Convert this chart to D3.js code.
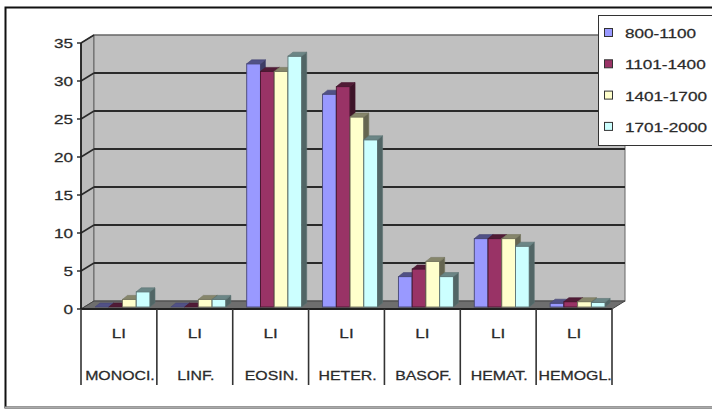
<!DOCTYPE html>
<html>
<head>
<meta charset="utf-8">
<script src="https://cdn.jsdelivr.net/npm/d3@7"></script>
<style>
  body { margin: 0; background: #fff; }
  text { font-family: "Liberation Sans", Arial, sans-serif; fill: #2a2a2a; stroke: #2a2a2a; stroke-width: 0.25px; }
</style>
</head>
<body>
<div id="chart"></div>
<script>
var categories = ["MONOCI.", "LINF.", "EOSIN.", "HETER.", "BASOF.", "HEMAT.", "HEMOGL."];
var groupLabel = "LI";
var seriesNames = ["800-1100", "1101-1400", "1401-1700", "1701-2000"];
var s800 = [0, 0, 32, 28, 4, 9, 0.5];
var s1101 = [0, 0, 31, 29, 5, 9, 0.7];
var s1401 = [1, 1, 31, 25, 6, 9, 0.7];
var s1701 = [2, 1, 33, 22, 4, 8, 0.6];
var yTicks = [0, 5, 10, 15, 20, 25, 30, 35];
var colors = ["#9999FF", "#993366", "#FFFFCC", "#CCFFFF"];

var seriesValues = [s800, s1101, s1401, s1701];

width = 712;
height = 410;
var stretch = 1.27;
// depth of the back wall and of each bar
var wallDx = 13, wallDy = 8;
var barDx = 5, barDy = 4;

var svg = d3.select("#chart").append("svg")
    .attr("width", width)
    .attr("height", height);

// chart area border
svg.append("rect")
    .attr("x", 5.5).attr("y", 7.5)
    .attr("width", 720).attr("height", 400)
    .attr("fill", "#fff")
    .attr("stroke", "#111")
    .attr("stroke-width", 2);
svg.append("line")
    .attr("x1", 5).attr("x2", 712).attr("y1", 407.5).attr("y2", 407.5)
    .attr("stroke", "#aaa").attr("stroke-width", 2);

var y = d3.scaleLinear().domain([0, 35]).range([309, 43]);
var x = d3.scaleBand().domain(categories).range([81, 612]);
var inner = d3.scaleBand().domain(seriesNames).range([14, 69]);

var x0 = x.range()[0], x1 = x.range()[1];
var yTop = y(35), yBot = y(0);

// left wall
svg.append("polygon")
    .attr("points", [[x0, yTop], [x0 + wallDx, yTop - wallDy], [x0 + wallDx, yBot - wallDy], [x0, yBot]].join(" "))
    .attr("fill", "#bcbcbc")
    .attr("stroke", "#555");

// back wall
svg.append("rect")
    .attr("x", x0 + wallDx).attr("y", yTop - wallDy)
    .attr("width", x1 - x0).attr("height", yBot - yTop)
    .attr("fill", "#c0c0c0")
    .attr("stroke", "#666");

// floor
svg.append("polygon")
    .attr("points", [[x0, yBot], [x0 + wallDx, yBot - wallDy], [x1 + wallDx, yBot - wallDy], [x1, yBot]].join(" "))
    .attr("fill", "#6e6e6e")
    .attr("stroke", "#444");

// gridlines
var grid = svg.append("g");
yTicks.filter(function(d) { return d > 0; }).forEach(function(t) {
    grid.append("line")
        .attr("x1", x0 + wallDx).attr("x2", x1 + wallDx)
        .attr("y1", y(t) - wallDy).attr("y2", y(t) - wallDy)
        .attr("stroke", t === 35 ? "#666" : "#2a2a2a")
        .attr("stroke-width", t === 35 ? 1 : 1.8);
    grid.append("line")
        .attr("x1", x0).attr("x2", x0 + wallDx)
        .attr("y1", y(t)).attr("y2", y(t) - wallDy)
        .attr("stroke", "#2a2a2a")
        .attr("stroke-width", 1.5);
});

// value axis
svg.append("line")
    .attr("x1", x0).attr("x2", x0)
    .attr("y1", yTop).attr("y2", yBot)
    .attr("stroke", "#222").attr("stroke-width", 1.8);

yTicks.forEach(function(t) {
    svg.append("line")
        .attr("x1", x0 - 4).attr("x2", x0)
        .attr("y1", y(t)).attr("y2", y(t))
        .attr("stroke", "#222").attr("stroke-width", 1.4);
    svg.append("text")
        .text(t)
        .attr("text-anchor", "end")
        .attr("transform", "translate(" + (x0 - 8) + "," + (y(t) + 5) + ") scale(" + stretch + ",1)")
        .style("font-size", "13.5px");
});

// bars
var bars = svg.append("g");
categories.forEach(function(cat, ci) {
    seriesNames.forEach(function(name, si) {
        var v = seriesValues[si][ci];
        var bx = x(cat) + inner(name);
        var bw = inner.bandwidth();
        var base = y(0) - 2;
        var top = y(v) - 2;
        var c = d3.color(colors[si]);
        var stroke = c.darker(2.2).formatHex();

        bars.append("rect")
            .attr("x", bx).attr("y", top)
            .attr("width", bw).attr("height", base - top)
            .attr("fill", colors[si])
            .attr("stroke", stroke)
            .attr("stroke-width", 0.9);

        bars.append("polygon")
            .attr("points", [[bx + bw, base], [bx + bw + barDx, base - barDy], [bx + bw + barDx, top - barDy], [bx + bw, top]].join(" "))
            .attr("fill", c.darker(2.6).formatHex())
            .attr("stroke", stroke)
            .attr("stroke-width", 0.6);

        bars.append("polygon")
            .attr("points", [[bx, top], [bx + barDx, top - barDy], [bx + bw + barDx, top - barDy], [bx + bw, top]].join(" "))
            .attr("fill", c.darker(1.8).formatHex())
            .attr("stroke", stroke)
            .attr("stroke-width", 0.6);
    });
});

// category axis with two label rows
svg.append("line")
    .attr("x1", x0).attr("x2", x1)
    .attr("y1", yBot).attr("y2", yBot)
    .attr("stroke", "#222").attr("stroke-width", 1.8);

var bounds = categories.map(function(c) { return x(c); }).concat([x1]);
bounds.forEach(function(b) {
    svg.append("line")
        .attr("x1", b).attr("x2", b)
        .attr("y1", yBot).attr("y2", 385)
        .attr("stroke", "#333").attr("stroke-width", 1.6);
});

categories.forEach(function(cat) {
    var cx = x(cat) + x.bandwidth() / 2;
    svg.append("text")
        .text(groupLabel)
        .attr("text-anchor", "middle")
        .attr("transform", "translate(" + cx + ",338) scale(" + stretch + ",1)")
        .style("font-size", "13.5px");
    svg.append("text")
        .text(cat)
        .attr("text-anchor", "middle")
        .attr("transform", "translate(" + (cx + 1) + ",380) scale(" + stretch + ",1)")
        .style("font-size", "12.5px");
});

// legend
var legend = svg.append("g");
legend.append("rect")
    .attr("x", 598.5).attr("y", 15.5)
    .attr("width", 130).attr("height", 130)
    .attr("fill", "#fff")
    .attr("stroke", "#333");

seriesNames.forEach(function(name, i) {
    var ly = 33 + i * 31.3;
    legend.append("rect")
        .attr("x", 604.5).attr("y", ly - 4.5)
        .attr("width", 8).attr("height", 8)
        .attr("fill", colors[i])
        .attr("stroke", "#333");
    legend.append("text")
        .text(name)
        .attr("transform", "translate(625," + (ly + 5) + ") scale(" + stretch + ",1)")
        .style("font-size", "13.5px");
});
</script>
</body>
</html>
